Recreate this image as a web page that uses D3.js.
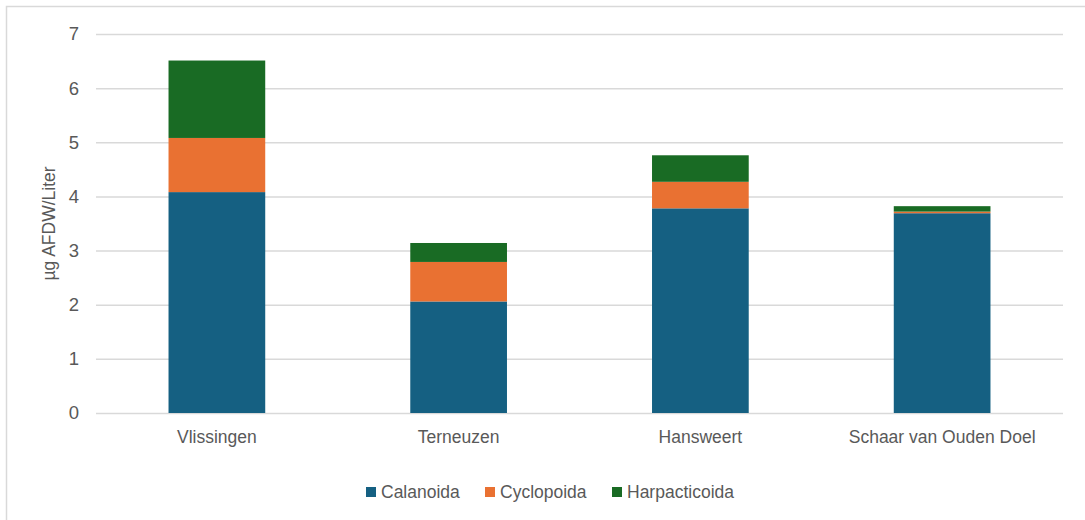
<!DOCTYPE html>
<html>
<head>
<meta charset="utf-8">
<script src="https://cdn.jsdelivr.net/npm/d3@7"></script>
<style>
  html, body { margin: 0; padding: 0; background: #fff; }
  svg { display: block; font-family: "Liberation Sans", "Noto Sans", sans-serif; }
</style>
</head>
<body>
<svg id="chart" width="1085" height="520"></svg>
<script>
// Sampling stations along the estuary
const categories = ["Vlissingen", "Terneuzen", "Hansweert", "Schaar van Ouden Doel"];
// Copepod biomass per order (µg AFDW/Liter)
const seriesNames = ["Calanoida", "Cyclopoida", "Harpacticoida"];
const calanoida     = [4.08, 2.06, 3.78, 3.69];
const cyclopoida    = [1.00, 0.73, 0.49, 0.03];
const harpacticoida = [1.43, 0.35, 0.49, 0.10];
const yTicks = [0, 1, 2, 3, 4, 5, 6, 7];
const colors = ["#156082", "#E97132", "#196B24"];

const rows = categories.map((c, i) => ({
  station: c,
  Calanoida: calanoida[i],
  Cyclopoida: cyclopoida[i],
  Harpacticoida: harpacticoida[i]
}));

const svg = d3.select("#chart");
const textColor = "#595959";
const fontSize = 17.5;
const tickFontSize = 18.5;

// outer chart frame
svg.append("rect")
  .attr("x", 6.5).attr("y", 6.5)
  .attr("width", 1200).attr("height", 700)
  .attr("fill", "none").attr("stroke", "#d9d9d9").attr("stroke-width", 1.5);

const plot = { left: 96, right: 1063, top: 34, bottom: 413 };

const x = d3.scaleBand()
  .domain(categories)
  .range([plot.left, plot.right])
  .paddingInner(0.6)
  .paddingOuter(0.3);

const y = d3.scaleLinear()
  .domain([0, 7])
  .range([plot.bottom, plot.top]);

// horizontal gridlines
svg.append("g")
  .selectAll("line")
  .data(yTicks)
  .join("line")
  .attr("x1", plot.left).attr("x2", plot.right)
  .attr("y1", d => y(d) + 0.5).attr("y2", d => y(d) + 0.5)
  .attr("stroke", "#d9d9d9").attr("stroke-width", 1.5);

// y axis tick labels
const yAxis = d3.axisLeft(y).tickValues(yTicks).tickSize(0).tickPadding(0).tickFormat(d3.format("d"));
const yG = svg.append("g").attr("transform", `translate(${79},0)`).call(yAxis);
yG.select(".domain").remove();
yG.selectAll("text")
  .attr("fill", textColor)
  .style("font-size", tickFontSize + "px")
  .style("font-family", "inherit");

// stacked bars
const stack = d3.stack().keys(seriesNames);
const layers = stack(rows);

svg.append("g")
  .selectAll("g")
  .data(layers)
  .join("g")
  .attr("fill", (d, i) => colors[i])
  .selectAll("rect")
  .data(d => d)
  .join("rect")
  .attr("x", d => x(d.data.station))
  .attr("width", x.bandwidth())
  .attr("y", d => y(d[1]))
  .attr("height", d => y(d[0]) - y(d[1]));

// category axis labels
const xAxis = d3.axisBottom(x).tickSize(0).tickPadding(0);
const xG = svg.append("g").attr("transform", `translate(0,${431})`).call(xAxis);
xG.select(".domain").remove();
xG.selectAll("text")
  .attr("fill", textColor)
  .style("font-size", fontSize + "px")
  .style("font-family", "inherit");

// y axis title
svg.append("text")
  .attr("transform", `translate(55,${(plot.top + plot.bottom) / 2}) rotate(-90)`)
  .attr("text-anchor", "middle")
  .attr("fill", textColor)
  .style("font-size", fontSize + "px")
  .text("µg AFDW/Liter");

// legend
const legendX = [366, 485, 612];
const legend = svg.append("g");
seriesNames.forEach((name, i) => {
  const g = legend.append("g").attr("transform", `translate(${legendX[i]},${487})`);
  g.append("rect").attr("width", 10).attr("height", 10).attr("fill", colors[i]);
  g.append("text")
    .attr("x", 15).attr("y", 5)
    .attr("dy", "0.35em")
    .attr("fill", textColor)
    .style("font-size", fontSize + "px")
    .text(name);
});
</script>
</body>
</html>
